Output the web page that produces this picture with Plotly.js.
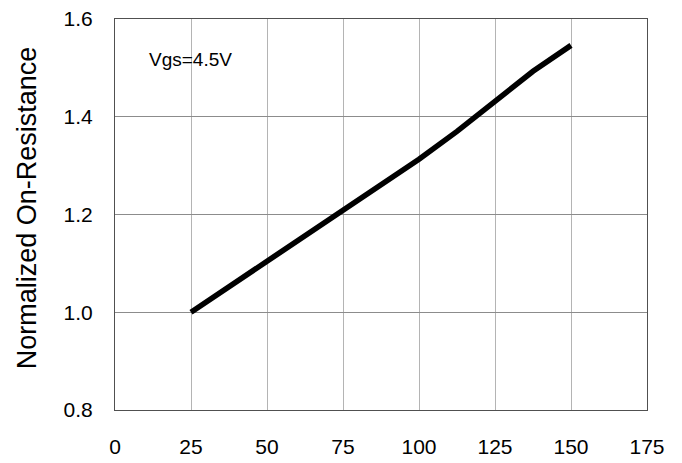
<!DOCTYPE html>
<html>
<head>
<meta charset="utf-8">
<script src="https://cdn.plot.ly/plotly-3.0.1.min.js"></script>
<style>html,body{margin:0;padding:0;background:#fff;}#chart{width:682px;height:463px;}</style>
</head>
<body>
<div id="chart"></div>
<script>
const temperature = [25, 37.5, 50, 62.5, 75, 87.5, 100, 112.5, 125, 137.5, 150];
const normResistance = [1.0, 1.052, 1.104, 1.157, 1.21, 1.261, 1.313, 1.37, 1.433, 1.493, 1.546];
const xTicks = [0, 25, 50, 75, 100, 125, 150, 175];
const yTicks = [0.8, 1.0, 1.2, 1.4, 1.6];
const yTickText = ['0.8', '1.0', '1.2', '1.4', '1.6'];
const yTitle = 'Normalized On-Resistance';
const noteText = 'Vgs=4.5V';

const font = 'Liberation Sans, Arial, sans-serif';
Plotly.newPlot('chart', [{
  x: temperature, y: normResistance, type: 'scatter', mode: 'lines',
  line: {color: '#000', width: 5.5},
  hoverinfo: 'skip'
}], {
  width: 682, height: 463,
  margin: {l: 115, r: 35, t: 19, b: 53},
  paper_bgcolor: '#fff', plot_bgcolor: '#fff',
  showlegend: false,
  font: {family: font, color: '#000'},
  xaxis: {
    range: [0, 175], tickvals: xTicks, ticktext: xTicks.map(String),
    showgrid: true, gridcolor: '#b4b4b4', gridwidth: 1,
    showline: true, linecolor: '#505050', linewidth: 1, mirror: true,
    ticks: 'outside', ticklen: 18, tickcolor: 'rgba(0,0,0,0)',
    tickfont: {family: font, size: 21, color: '#000'}, zeroline: false
  },
  yaxis: {
    range: [0.8, 1.6], tickvals: yTicks, ticktext: yTickText,
    showgrid: true, gridcolor: '#8c8c8c', gridwidth: 1,
    showline: true, linecolor: '#505050', linewidth: 1, mirror: true,
    ticks: 'outside', ticklen: 17, tickcolor: 'rgba(0,0,0,0)',
    tickfont: {family: font, size: 21, color: '#000'}, zeroline: false
  },
  annotations: [{
    text: noteText, xref: 'paper', yref: 'paper', x: 0.06, y: 0.897,
    xanchor: 'left', yanchor: 'middle', showarrow: false,
    font: {family: font, size: 19, color: '#000'}
  }, {
    text: yTitle, xref: 'paper', yref: 'paper', x: -0.165, y: 0.5166,
    xanchor: 'center', yanchor: 'middle', textangle: -90, showarrow: false,
    font: {family: font, size: 27, color: '#000'}
  }]
}, {staticPlot: true});
</script>
</body>
</html>
